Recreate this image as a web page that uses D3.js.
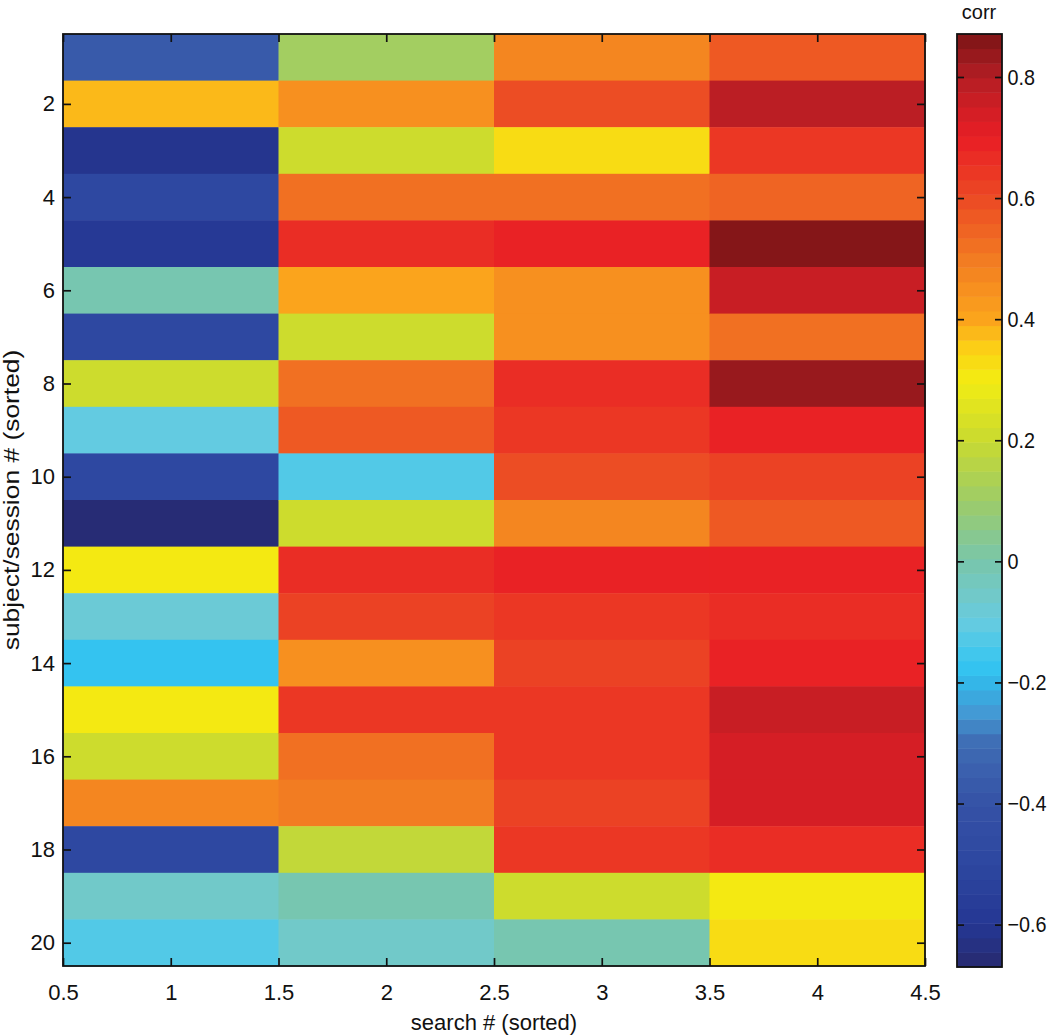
<!DOCTYPE html>
<html>
<head>
<meta charset="utf-8">
<script src="https://cdn.jsdelivr.net/npm/d3@7"></script>
<style>
  body { margin: 0; background: #fff; }
  text { font-family: "Liberation Sans", Arial, sans-serif; fill: #111; }
</style>
</head>
<body>
<svg id="chart" width="1050" height="1036"></svg>
<script>
// correlation per subject/session (rows 1..20) for each sorted search #
const search1 = [-0.38, 0.37, -0.60, -0.50, -0.58, 0.00, -0.48, 0.20, -0.10, -0.50,
                 -0.65, 0.30, -0.08, -0.17, 0.30, 0.20, 0.47, -0.50, -0.06, -0.13];
const search2 = [0.12, 0.44, 0.20, 0.53, 0.67, 0.39, 0.22, 0.51, 0.56, -0.12,
                 0.20, 0.66, 0.61, 0.44, 0.65, 0.52, 0.50, 0.19, -0.01, -0.06];
const search3 = [0.47, 0.60, 0.32, 0.53, 0.69, 0.45, 0.45, 0.67, 0.65, 0.60,
                 0.48, 0.70, 0.64, 0.61, 0.65, 0.65, 0.61, 0.65, 0.20, 0.00];
const search4 = [0.57, 0.78, 0.64, 0.54, 0.86, 0.76, 0.53, 0.84, 0.70, 0.63,
                 0.57, 0.70, 0.67, 0.69, 0.77, 0.73, 0.73, 0.67, 0.31, 0.33];
const columns = [search1, search2, search3, search4];

const xTicks = [0.5, 1, 1.5, 2, 2.5, 3, 3.5, 4, 4.5];
const yTicks = [2, 4, 6, 8, 10, 12, 14, 16, 18, 20];
const cbarTicks = [-0.6, -0.4, -0.2, 0, 0.2, 0.4, 0.6, 0.8];
const cRange = [-0.67, 0.871];

// colormap anchors
const cmapValues = [-0.67, -0.6, -0.5, -0.4, -0.3, -0.25, -0.2, -0.17, -0.1, -0.05,
                    0, 0.1, 0.2, 0.3, 0.35, 0.4, 0.5, 0.6, 0.7, 0.8, 0.871];
const cmapColors = ['#272a6f', '#253793', '#2d47a0', '#3552a6', '#3f6cb4', '#4399d4',
                    '#34b6e8', '#34c6f2', '#66cbe0', '#72c9c6', '#78c6ac', '#9dcc68',
                    '#c9da30', '#f3ec12', '#fcd116', '#fba51c', '#f27b22', '#ec4a24',
                    '#e91e25', '#b41e24', '#7b1416'];

const smooth = d3.scaleLinear().domain(cmapValues).range(cmapColors).clamp(true);
const nLevels = 64;
const step = (cRange[1] - cRange[0]) / nLevels;
function colorOf(v) {
  let k = Math.floor((v - cRange[0]) / step);
  k = Math.max(0, Math.min(nLevels - 1, k));
  return smooth(cRange[0] + (k + 0.5) * step);
}

const svg = d3.select('#chart');
const plot = { left: 63, right: 925, top: 34, bottom: 966 };

const x = d3.scaleLinear().domain([0.5, 4.5]).range([plot.left, plot.right]);
const y = d3.scaleLinear().domain([0.5, 20.5]).range([plot.top, plot.bottom]);

// cells
const cells = [];
columns.forEach((col, ci) => col.forEach((v, ri) => cells.push({ c: ci + 1, r: ri + 1, v })));
svg.append('g').selectAll('rect').data(cells).join('rect')
  .attr('x', d => x(d.c - 0.5))
  .attr('y', d => y(d.r - 0.5))
  .attr('width', d => x(d.c + 0.5) - x(d.c - 0.5) + 0.5)
  .attr('height', d => y(d.r + 0.5) - y(d.r - 0.5) + 0.5)
  .attr('fill', d => colorOf(d.v));

// axes (MATLAB style: ticks inward on both sides)
const tickLen = 8;
const fontSize = 22;
const minusFmt = v => d3.format('~g')(v).replace('-', '\u2212');
function styleAxis(g) {
  g.select('.domain').remove();
  g.selectAll('.tick line').attr('stroke', '#111').attr('stroke-width', 1.7);
  g.selectAll('.tick text').attr('font-size', fontSize).attr('fill', '#111');
}
const xb = svg.append('g').attr('transform', `translate(0,${plot.bottom})`)
  .call(d3.axisBottom(x).tickValues(xTicks).tickSize(-tickLen).tickPadding(18).tickFormat(d3.format('~g')));
const xt = svg.append('g').attr('transform', `translate(0,${plot.top})`)
  .call(d3.axisTop(x).tickValues(xTicks).tickSize(-tickLen).tickFormat(''));
const yl = svg.append('g').attr('transform', `translate(${plot.left},0)`)
  .call(d3.axisLeft(y).tickValues(yTicks).tickSize(-tickLen).tickPadding(8));
const yr = svg.append('g').attr('transform', `translate(${plot.right},0)`)
  .call(d3.axisRight(y).tickValues(yTicks).tickSize(-tickLen).tickFormat(''));
[xb, xt, yl, yr].forEach(styleAxis);

svg.append('rect')
  .attr('x', plot.left).attr('y', plot.top)
  .attr('width', plot.right - plot.left).attr('height', plot.bottom - plot.top)
  .attr('fill', 'none').attr('stroke', '#111').attr('stroke-width', 1.8);

svg.append('text')
  .attr('x', (plot.left + plot.right) / 2).attr('y', 1030)
  .attr('text-anchor', 'middle').attr('font-size', 22)
  .text('search # (sorted)');
svg.append('text')
  .attr('transform', `translate(19,${(plot.top + plot.bottom) / 2}) rotate(-90) scale(1.2,1)`)
  .attr('text-anchor', 'middle').attr('font-size', 22)
  .text('subject/session # (sorted)');

// colour bar
const cb = { left: 957, right: 1002, top: 34, bottom: 967 };
const cy = d3.scaleLinear().domain(cRange).range([cb.bottom, cb.top]);
const levels = d3.range(nLevels).map(k => cRange[0] + k * step);
svg.append('g').selectAll('rect').data(levels).join('rect')
  .attr('x', cb.left)
  .attr('y', d => cy(d + step))
  .attr('width', cb.right - cb.left)
  .attr('height', d => cy(d) - cy(d + step) + 0.5)
  .attr('fill', d => colorOf(d + step / 2));

const cbR = svg.append('g').attr('transform', `translate(${cb.right},0)`)
  .call(d3.axisRight(cy).tickValues(cbarTicks).tickSize(-7).tickPadding(6).tickFormat(minusFmt));
const cbL = svg.append('g').attr('transform', `translate(${cb.left},0)`)
  .call(d3.axisLeft(cy).tickValues(cbarTicks).tickSize(-7).tickFormat(''));
[cbR, cbL].forEach(styleAxis);
// the labels are a touch condensed in the reference so they fit the page edge
cbR.selectAll('.tick text').attr('transform', 'scale(0.9,1)');
svg.append('rect')
  .attr('x', cb.left).attr('y', cb.top)
  .attr('width', cb.right - cb.left).attr('height', cb.bottom - cb.top)
  .attr('fill', 'none').attr('stroke', '#111').attr('stroke-width', 1.8);

svg.append('text')
  .attr('x', 979).attr('y', 19)
  .attr('text-anchor', 'middle').attr('font-size', 20)
  .text('corr');
</script>
</body>
</html>
